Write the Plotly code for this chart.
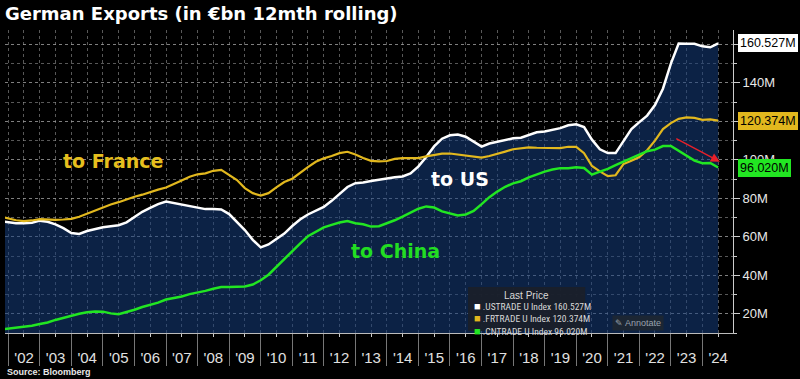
import plotly.graph_objects as go

# ---- data (EUR bn, 12-month rolling), quarterly samples ----
dates = ["2001-11-01"] + [f"{y}-{m:02d}-01" for y in range(2002, 2024) for m in (1, 4, 7, 10)] + ["2024-01-01", "2024-04-01", "2024-07-01"]

us_exports = [68,
    67.5, 67, 67, 67.3,
    68.4, 67.8, 66.5, 64.5,
    62, 61.5, 63, 64,
    65, 65.5, 66, 67.5,
    70.5, 73, 75, 77,
    78.3, 77.5, 77, 76,
    75, 74.4, 74.4, 74.2,
    71.8, 67.5, 63.5, 58.4,
    54.5, 56, 59, 61.7,
    65.6, 69, 71.6, 73.4,
    75.5, 78.7, 82.2, 85.9,
    87.9, 88.2, 89, 89.5,
    90.3, 91, 91.4, 93,
    96.6, 101.5, 107, 111,
    112.8, 113.2, 112, 109.5,
    106.9, 108.5, 109.5, 110.4,
    111.2, 111.5, 113, 114.3,
    114.7, 115.5, 116.5, 118,
    118.5, 117, 110.5, 105.5,
    103.5, 103.5, 110, 116,
    119.6, 123, 128.5, 137,
    150, 160.5, 160.4, 160.3,
    159, 158.5, 160.527]

fr_exports = [70.2,
    69.5, 68.6, 68.2, 68.5,
    69.2, 69, 68.8, 69,
    69.3, 70.4, 72, 74,
    75.5, 76.8, 78, 79.5,
    80.8, 81.9, 83.3, 84.5,
    85.6, 87.6, 89.3, 91.2,
    92.5, 93, 94.3, 94.8,
    92, 89.5, 85.3, 82.7,
    81.4, 82.7, 85.7, 88.5,
    90.2, 93.4, 96.2, 99,
    100.8, 102, 103.5, 104.2,
    102.8, 101, 99.5, 99.2,
    99.4, 100.5, 100.9, 100.9,
    100.9, 101.8, 102.4, 103.2,
    103.3, 102.8, 102.2, 101.5,
    101.2, 102, 103.3, 104.3,
    105.5, 106, 106.5, 106.3,
    106.1, 106.1, 106.1, 106.8,
    106.8, 103.5, 96.8, 94,
    91.5, 92, 97.8, 99.5,
    101.5, 105, 110, 116,
    119.1, 121.3, 122.1, 121.8,
    120.8, 121, 120.374]

cn_exports = [12,
    12.3, 12.7, 13.3, 13.8,
    14.7, 15.5, 16.8, 18,
    19.1, 20, 20.8, 21.2,
    21.1, 20.2, 19.8, 20.9,
    22.1, 23.5, 24.5, 25.8,
    27.4, 28.1, 29, 30.2,
    30.9, 31.9, 33, 33.9,
    33.9, 33.9, 34.2, 35.2,
    37.4, 40.3, 44.4, 48.5,
    52.7, 56.5, 60.3, 62.6,
    64.9, 66.2, 67.4, 68.2,
    67.1, 66.5, 65.3, 65.5,
    67, 68.6, 70.5, 72.4,
    74.6, 75.8, 75.2, 73.2,
    72, 71.1, 71.6, 73.5,
    77, 80.6, 83.5, 86,
    87.8, 88.9, 90.9, 92.6,
    93.9, 95, 95.7, 95.7,
    96.2, 95.8, 92.3, 93.9,
    95.3, 97.2, 99.1, 100.9,
    103, 104.5, 105.3, 107.2,
    107.2, 104.8, 102, 99.6,
    98.3, 98.4, 96.02]

series_names = [".USTRADE U Index", ".FRTRADE U Index", ".CNTRADE U Index"]
series_colors = ["#ffffff", "#e2b81e", "#22e622"]
series_values = [us_exports, fr_exports, cn_exports]
y_ticks = [20, 40, 60, 80, 100, 120, 140, 160]
# 120M and 160M sit under the last-value tags, so they are left blank
y_ticktext = ["20M", "40M", "60M", "80M", "100M", "", "140M", ""]

GRID = "rgba(160,160,160,0.55)"
SANS = "Liberation Sans, Arial"
NARROW = "Liberation Sans Narrow, Roboto Condensed, Liberation Sans, Arial"

fig = go.Figure()
fig.add_trace(go.Scatter(x=dates, y=us_exports, mode="lines",
                         line=dict(color=series_colors[0], width=2.5),
                         fill="tozeroy", fillcolor="rgba(22,62,125,0.55)",
                         showlegend=False, hoverinfo="skip"))
fig.add_trace(go.Scatter(x=dates, y=fr_exports, mode="lines",
                         line=dict(color=series_colors[1], width=2.2),
                         showlegend=False, hoverinfo="skip"))
fig.add_trace(go.Scatter(x=dates, y=cn_exports, mode="lines",
                         line=dict(color=series_colors[2], width=2.5),
                         showlegend=False, hoverinfo="skip"))

# last-value tags on the right
for col, vals in zip(series_colors, series_values):
    fig.add_annotation(xref="paper", x=1, xanchor="left", xshift=5,
                       yref="y", y=vals[-1], yanchor="middle",
                       text=f"{vals[-1]:.3f}M", showarrow=False,
                       bgcolor=col, bordercolor=col, borderpad=1,
                       font=dict(family=SANS, size=12.5, color="#000000"))

# custom "Last Price" legend box
fig.add_shape(type="rect", xref="paper", yref="paper", x0=0.636, x1=0.797, y0=0.007, y1=0.152,
              fillcolor="rgba(26,32,42,0.95)", line=dict(width=0), layer="above")
fig.add_annotation(xref="paper", yref="paper", x=0.7165, y=0.148, xanchor="center", yanchor="top",
                   text="Last Price", showarrow=False,
                   font=dict(family=SANS, size=10, color="#d8d8d8"))
legend_lines = "<br>".join(
    f"<span style='color:{c};font-size:11px'>■</span> {n} {v[-1]:.3f}M"
    for n, c, v in zip(series_names, series_colors, series_values))
fig.add_annotation(xref="paper", yref="paper", x=0.641, y=0.114, xanchor="left", yanchor="top",
                   text=legend_lines, showarrow=False, align="left",
                   font=dict(family=NARROW, size=9.5, color="#d8d8d8"))

# series captions
caption_font = "DejaVu Sans, Verdana"
fig.add_annotation(x="2005-04-25", y=99.5, text="<b>to France</b>", showarrow=False,
                   font=dict(family=caption_font, size=19, color="#e6bf1e"))
fig.add_annotation(x="2016-04-26", y=90.1, text="<b>to US</b>", showarrow=False,
                   font=dict(family=caption_font, size=19, color="#ffffff"))
fig.add_annotation(x="2014-04-15", y=52.7, text="<b>to China</b>", showarrow=False,
                   font=dict(family=caption_font, size=19, color="#22dd22"))

# red arrow
fig.add_annotation(x="2024-07-22", y=99, ax="2023-02-15", ay=111.4,
                   xref="x", yref="y", axref="x", ayref="y", text="",
                   showarrow=True, arrowhead=2, arrowsize=1.3, arrowwidth=1.4,
                   arrowcolor="#e8202a")

# Annotate button
fig.add_annotation(xref="paper", yref="paper", x=0.834, y=0.006, xanchor="left", yanchor="bottom",
                   text="✎ Annotate", showarrow=False, bgcolor="#1c2633", borderpad=2,
                   font=dict(family=SANS, size=9, color="#9aa3ad"))

# source
fig.add_annotation(xref="paper", yref="paper", x=0, y=-0.128, xanchor="left", yanchor="middle",
                   text="<b>Source: Bloomberg</b>", showarrow=False,
                   font=dict(family=SANS, size=9, color="#e8e8e8"))

fig.update_layout(
    width=800, height=379,
    margin=dict(l=5, r=67, t=30, b=46, autoexpand=False),
    paper_bgcolor="#000000", plot_bgcolor="#000000",
    title=dict(text="<b>German Exports (in €bn 12mth rolling)</b>",
               x=5/800, xanchor="left", y=1-14/379, yanchor="middle",
               font=dict(family="DejaVu Sans, Verdana", size=18, color="#ffffff")),
    showlegend=False,
    xaxis=dict(range=["2001-11-24", "2024-12-20"], type="date",
               tickmode="linear", tick0="2002-01-01", dtick="M12",
               tickformat="'%y", ticklabelmode="period",
               ticks="outside", ticklen=32, tickcolor="#777777", tickwidth=1,
               ticklabelstandoff=-21,
               showgrid=True, gridcolor=GRID, griddash="dot", gridwidth=1,
               minor=dict(dtick="M6", tick0="2002-01-01", showgrid=True, gridcolor=GRID,
                          griddash="dot", ticks="outside", ticklen=3, tickcolor="#cccccc"),
               showline=True, linecolor="#bbbbbb", linewidth=1, zeroline=False,
               tickfont=dict(family=SANS, size=15, color="#e0e0e0")),
    yaxis=dict(range=[10, 167.5], side="right",
               tickmode="array", tickvals=y_ticks, ticktext=y_ticktext,
               ticks="outside", ticklen=6, tickcolor="#cccccc",
               showgrid=True, gridcolor=GRID, griddash="dot", gridwidth=1,
               minor=dict(dtick=10, tick0=0, showgrid=True, gridcolor=GRID, griddash="dot",
                          ticks="outside", ticklen=3, tickcolor="#cccccc"),
               showline=True, linecolor="#cccccc", linewidth=1, zeroline=False,
               tickfont=dict(family=SANS, size=13, color="#e8e8e8")),
)

fig.write_html("out.html", config={"displayModeBar": False},
               post_script="document.body.style.margin='0';document.body.style.background='#000';")
